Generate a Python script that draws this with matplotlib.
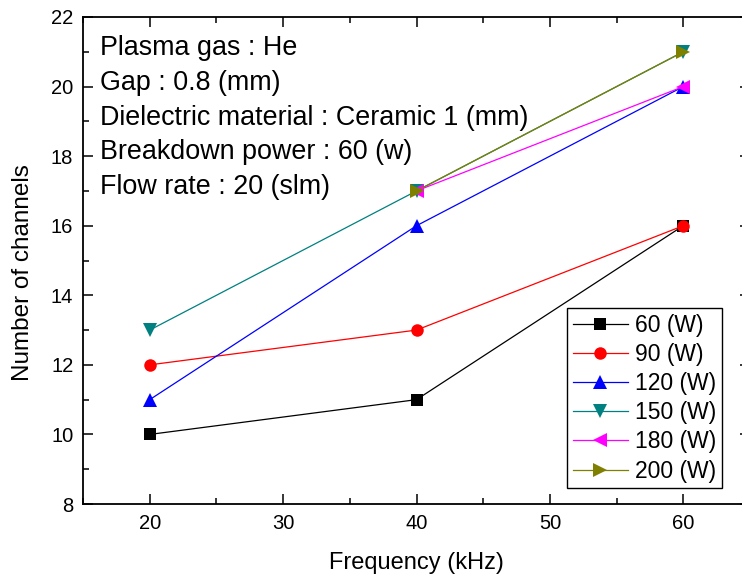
import numpy as np
import matplotlib
matplotlib.use("Agg")
import matplotlib.pyplot as plt
from matplotlib.ticker import MultipleLocator

plt.rcParams['font.family'] = ['Liberation Sans', 'DejaVu Sans']

# Measured number of discharge channels vs. driving frequency
frequency = [20, 40, 60]
ch_60w = [10, 11, 16]
ch_90w = [12, 13, 16]
ch_120w = [11, 16, 20]
ch_150w = [13, 17, 21]
ch_180w = [np.nan, 17, 20]
ch_200w = [np.nan, 17, 21]

series_labels = ['60 (W)', '90 (W)', '120 (W)', '150 (W)', '180 (W)', '200 (W)']
x_ticks = [20, 30, 40, 50, 60]
y_ticks = [8, 10, 12, 14, 16, 18, 20, 22]

conditions = [
    "Plasma gas : He",
    "Gap : 0.8 (mm)",
    "Dielectric material : Ceramic 1 (mm)",
    "Breakdown power : 60 (w)",
    "Flow rate : 20 (slm)",
]

W, H = 742, 580
fig = plt.figure(figsize=(W / 100, H / 100), dpi=100)
ax = fig.add_axes([83 / W, 76 / H, (750 - 83) / W, (504 - 17) / H])

styles = [
    ('black', 's', 8.0),
    ('#ff0000', 'o', 9.0),
    ('#0000ff', '^', 10.5),
    ('#008080', 'v', 10.5),
    ('#ff00ff', '<', 10.5),
    ('#808000', '>', 10.5),
]
all_series = [ch_60w, ch_90w, ch_120w, ch_150w, ch_180w, ch_200w]
for vals, lab, (c, m, ms) in zip(all_series, series_labels, styles):
    ax.plot(frequency, vals, color=c, marker=m, markersize=ms, lw=0.9,
            markeredgewidth=0, label=lab)

ax.set_xlim(15, 65)
ax.set_ylim(8, 22)
ax.set_xticks(x_ticks)
ax.set_yticks(y_ticks)
ax.xaxis.set_minor_locator(MultipleLocator(5))
ax.yaxis.set_minor_locator(MultipleLocator(1))
ax.tick_params(which='both', direction='in', top=True, right=True,
               width=1.1, labelsize=14.5, pad=7)
ax.tick_params(which='major', length=7.5)
ax.tick_params(which='minor', length=4.5)
for sp in ax.spines.values():
    sp.set_linewidth(1.3)

ax.set_xlabel('Frequency (kHz)', fontsize=17, labelpad=14)
ax.set_ylabel('Number of channels', fontsize=17.5)
ax.yaxis.set_label_coords(-0.073, 0.476)

for i, line in enumerate(conditions):
    base = 55 + i * 34.8
    fig.text(100 / W, 1 - base / H, line, fontsize=19.4, va='baseline',
             ha='left')

leg = ax.legend(loc='upper left', bbox_to_anchor=((567 - 83) / 667, 1 - (308 - 17) / 487),
                fontsize=16.5, frameon=True, fancybox=False, framealpha=1,
                edgecolor='black', borderpad=0.25, labelspacing=0.27,
                handlelength=2.4, handletextpad=0.3, borderaxespad=0)
leg.get_frame().set_linewidth(1.0)

fig.savefig('out.png', dpi=100)
